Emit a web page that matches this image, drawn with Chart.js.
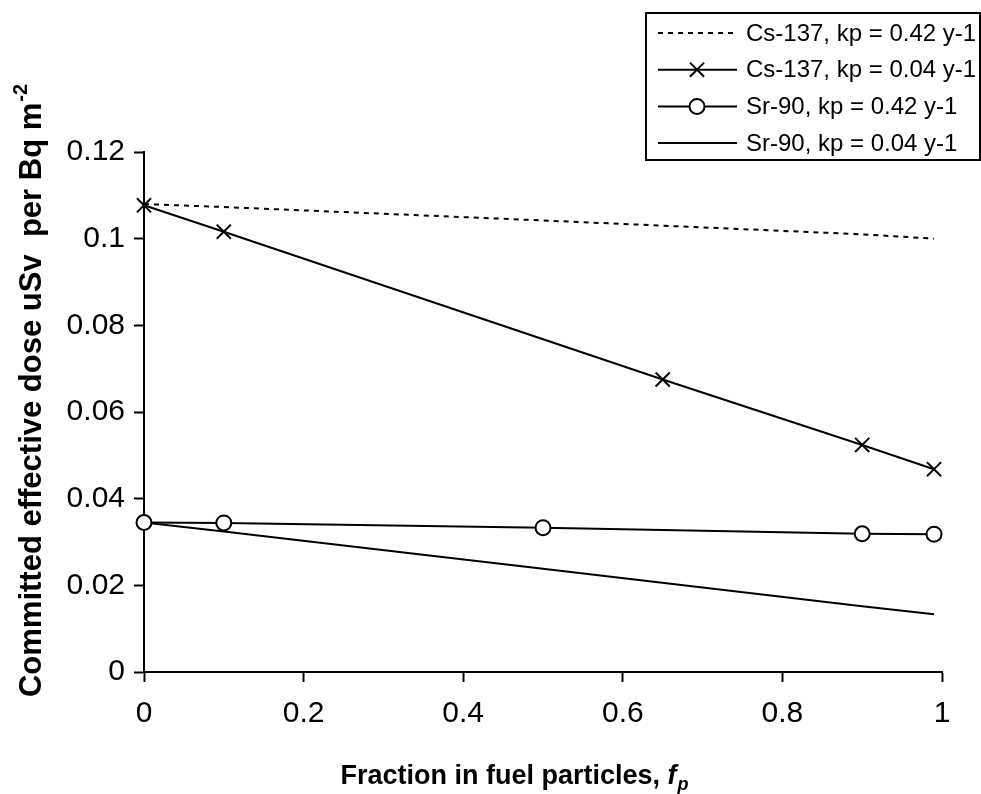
<!DOCTYPE html>
<html>
<head>
<meta charset="utf-8">
<script src="https://cdn.jsdelivr.net/npm/chart.js@4"></script>
<style>
  html, body { margin: 0; padding: 0; background: #fff; }
  #wrap { width: 981px; height: 794px; }
</style>
</head>
<body>
<div id="wrap"><canvas id="doseChart" width="981" height="794"></canvas></div>
<script>
// данные
const seriesNames = [
    'Cs-137, kp = 0.42 y-1',
    'Cs-137, kp = 0.04 y-1',
    'Sr-90, kp = 0.42 y-1',
    'Sr-90, kp = 0.04 y-1'
];
const fpCsFast = [0, 0.1, 0.5, 0.65, 0.9, 0.99];
const doseCsFast = [0.1080, 0.1073, 0.1042, 0.1030, 0.1010, 0.1000];
const fpCsSlow = [0, 0.1, 0.65, 0.9, 0.99];
const doseCsSlow = [0.1077, 0.1016, 0.0675, 0.0524, 0.0468];
const fpSr = [0, 0.1, 0.5, 0.9, 0.99];
const doseSrFast = [0.0345, 0.0344, 0.0333, 0.0319, 0.0318];
const doseSrSlow = [0.0345, 0.0324, 0.0238, 0.0152, 0.0133];
const xTicks = [0, 0.2, 0.4, 0.6, 0.8, 1];
const yTicks = [0, 0.02, 0.04, 0.06, 0.08, 0.1, 0.12];

const FONT = '"Liberation Sans", Arial, sans-serif';

const toPoints = (xs, ys) => xs.map((x, i) => ({ x: x, y: ys[i] }));
const fmt = v => String(Number(v.toFixed(2)));

// подписи осей и легенда рисуем сами (верхний индекс, курсив)
const extras = {
    id: 'extras',
    afterDraw(chart) {
        const ctx = chart.ctx;
        ctx.save();
        ctx.fillStyle = '#000';
        ctx.strokeStyle = '#000';

        // ось Y
        ctx.save();
        ctx.translate(32, 391);
        ctx.rotate(-Math.PI / 2);
        ctx.textBaseline = 'middle';
        ctx.textAlign = 'left';
        const yMain = 'Committed effective dose uSv  per Bq m';
        const ySup = '-2';
        ctx.font = 'bold 31px ' + FONT;
        const w1 = ctx.measureText(yMain).width;
        ctx.font = 'bold 20px ' + FONT;
        const w2 = ctx.measureText(ySup).width;
        const start = -(w1 + w2) / 2;
        ctx.font = 'bold 31px ' + FONT;
        ctx.fillText(yMain, start, 0);
        ctx.font = 'bold 20px ' + FONT;
        ctx.fillText(ySup, start + w1 + 1, -11);
        ctx.restore();

        // ось X
        const xMain = 'Fraction in fuel particles, ';
        ctx.textBaseline = 'alphabetic';
        ctx.textAlign = 'left';
        ctx.font = 'bold 27px ' + FONT;
        const a = ctx.measureText(xMain).width;
        ctx.font = 'italic bold 27px ' + FONT;
        const b = ctx.measureText('f').width;
        ctx.font = 'italic bold 18px ' + FONT;
        const c = ctx.measureText('p').width;
        const x0 = 514 - (a + b + c) / 2;
        const base = 784;
        ctx.font = 'bold 27px ' + FONT;
        ctx.fillText(xMain, x0, base);
        ctx.font = 'italic bold 27px ' + FONT;
        ctx.fillText('f', x0 + a, base);
        ctx.font = 'italic bold 18px ' + FONT;
        ctx.fillText('p', x0 + a + b + 1, base + 6);

        // легенда
        ctx.lineWidth = 2;
        ctx.strokeRect(646, 13, 334, 147);
        ctx.font = '24px ' + FONT;
        ctx.textBaseline = 'middle';
        chart.data.datasets.forEach((ds, i) => {
            const y = 33 + i * 36.7;
            ctx.save();
            ctx.lineWidth = ds.borderWidth;
            ctx.setLineDash(ds.borderDash || []);
            ctx.beginPath();
            ctx.moveTo(658, y);
            ctx.lineTo(737, y);
            ctx.stroke();
            ctx.restore();
            if (ds.pointRadius > 0) {
                ctx.save();
                ctx.fillStyle = ds.pointBackgroundColor;
                ctx.strokeStyle = ds.pointBorderColor;
                ctx.lineWidth = ds.pointBorderWidth;
                Chart.helpers.drawPoint(ctx, {
                    pointStyle: ds.pointStyle,
                    radius: ds.pointRadius,
                    rotation: 0,
                    borderWidth: ds.pointBorderWidth
                }, 697, y);
                ctx.restore();
            }
            ctx.fillStyle = '#000';
            ctx.fillText(ds.label, 746, y + 1);
        });
        ctx.restore();
    }
};

const lineBase = {
    showLine: true,
    borderColor: '#000',
    borderWidth: 2,
    tension: 0,
    clip: false,
    pointBorderColor: '#000',
    pointBorderWidth: 2
};

const ctx = document.getElementById('doseChart').getContext('2d');
const chart = new Chart(ctx, {
    type: 'scatter',
    data: {
        datasets: [
            Object.assign({}, lineBase, {
                label: seriesNames[0],
                data: toPoints(fpCsFast, doseCsFast),
                borderDash: [5, 5],
                pointRadius: 0
            }),
            Object.assign({}, lineBase, {
                label: seriesNames[1],
                data: toPoints(fpCsSlow, doseCsSlow),
                pointStyle: 'crossRot',
                pointRadius: 10,
                pointBackgroundColor: '#000'
            }),
            Object.assign({}, lineBase, {
                label: seriesNames[2],
                data: toPoints(fpSr, doseSrFast),
                pointStyle: 'circle',
                pointRadius: 7.5,
                pointBackgroundColor: '#fff'
            }),
            Object.assign({}, lineBase, {
                label: seriesNames[3],
                data: toPoints(fpSr, doseSrSlow),
                pointRadius: 0
            })
        ]
    },
    options: {
        responsive: false,
        animation: false,
        layout: { padding: { top: 152, right: 39, left: 0, bottom: 0 } },
        plugins: {
            legend: { display: false },
            tooltip: { enabled: false }
        },
        scales: {
            x: {
                type: 'linear',
                min: 0,
                max: 1,
                afterBuildTicks: s => { s.ticks = xTicks.map(v => ({ value: v })); },
                afterFit: s => { s.height = 122; },
                border: { color: '#000', width: 2 },
                grid: { drawOnChartArea: false, tickLength: 10, tickColor: '#000', tickWidth: 2 },
                ticks: {
                    color: '#000',
                    padding: 14,
                    font: { family: FONT, size: 30 },
                    callback: v => fmt(v),
                    maxRotation: 0
                }
            },
            y: {
                type: 'linear',
                min: 0,
                max: 0.12,
                afterBuildTicks: s => { s.ticks = yTicks.map(v => ({ value: v })); },
                afterFit: s => { s.width = 144; },
                border: { color: '#000', width: 2 },
                grid: { drawOnChartArea: false, tickLength: 10, tickColor: '#000', tickWidth: 2 },
                ticks: {
                    color: '#000',
                    padding: 9,
                    font: { family: FONT, size: 30 },
                    callback: v => fmt(v)
                }
            }
        }
    },
    plugins: [extras]
});
</script>
</body>
</html>
